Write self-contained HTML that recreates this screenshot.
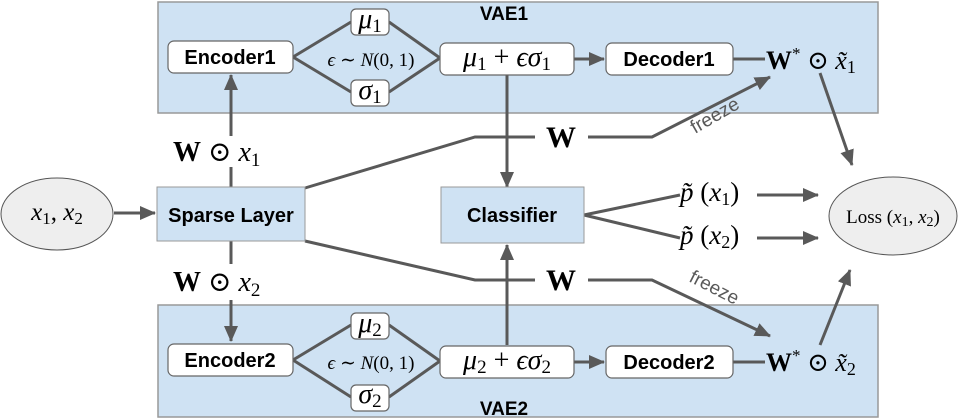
<!DOCTYPE html>
<html><head><meta charset="utf-8"><style>
body{margin:0;background:#fff}
svg{display:block}
.sans{font-family:"Liberation Sans",sans-serif;font-weight:bold}
.serif{font-family:"Liberation Serif","DejaVu Serif",serif}
</style></head><body>
<svg width="958" height="419" viewBox="0 0 958 419" xmlns="http://www.w3.org/2000/svg">
<defs><marker id="arL" markerWidth="16" markerHeight="14" refX="15" refY="7" orient="auto" markerUnits="userSpaceOnUse"><path d="M0,0 L16,7 L0,14 z" fill="#595959"/></marker></defs>
<g>
<rect x="158" y="2" width="720" height="111" fill="#cfe2f3" stroke="#999" stroke-width="1.5"/>
<text x="504" y="20" class="sans" font-size="19" text-anchor="middle">VAE1</text></g>
<g>
<rect x="158" y="305" width="720" height="112" fill="#cfe2f3" stroke="#999" stroke-width="1.5"/>
<text x="504" y="415" class="sans" font-size="19" text-anchor="middle">VAE2</text></g>
<g stroke="#595959" stroke-width="3" fill="none">
<polyline points="293,57 351,22"/><polyline points="293,57 351,92"/><polyline points="389,22 440,58"/><polyline points="389,92 440,58"/>
<polyline points="293,360 351,325"/><polyline points="293,360 351,397"/><polyline points="389,325 440,361"/><polyline points="389,397 440,361"/>
<line x1="574" y1="59" x2="604" y2="59" marker-end="url(#arL)"/>
<line x1="574" y1="362" x2="604" y2="362" marker-end="url(#arL)"/>
<line x1="733" y1="59" x2="765" y2="59"/><line x1="733" y1="362" x2="765" y2="362"/>
<line x1="231" y1="187" x2="231" y2="167"/><line x1="231" y1="136" x2="231" y2="75" marker-end="url(#arL)"/>
<line x1="231" y1="241" x2="231" y2="264"/><line x1="231" y1="300" x2="231" y2="341" marker-end="url(#arL)"/>
<polyline points="305,188 475,137 535,137"/><polyline points="588,137 652,137 770,77" marker-end="url(#arL)"/>
<polyline points="305,241 475,280 535,280"/><polyline points="588,280 652,280 770,336" marker-end="url(#arL)"/>
<line x1="507" y1="75" x2="507" y2="187" marker-end="url(#arL)"/>
<line x1="507" y1="345" x2="507" y2="245" marker-end="url(#arL)"/>
<polyline points="584,215 680,195"/><polyline points="584,215 680,238"/>
<line x1="757" y1="195" x2="818" y2="195" marker-end="url(#arL)"/>
<line x1="757" y1="238" x2="818" y2="238" marker-end="url(#arL)"/>
<line x1="820" y1="73" x2="852" y2="165" marker-end="url(#arL)"/>
<line x1="820" y1="345" x2="850" y2="270" marker-end="url(#arL)"/>
<line x1="114" y1="213" x2="155" y2="213" marker-end="url(#arL)"/>
</g>
<g stroke="#666" stroke-width="1.2" fill="#fff">
<rect x="168" y="41" width="125" height="32" rx="6"/>
<rect x="351" y="9" width="38" height="26" rx="5"/><rect x="351" y="80" width="38" height="26" rx="5"/>
<rect x="440" y="43" width="134" height="32" rx="6"/>
<rect x="606" y="43" width="127" height="32" rx="6"/>
<rect x="168" y="344" width="125" height="32" rx="6"/>
<rect x="351" y="313" width="38" height="26" rx="5"/><rect x="351" y="385" width="38" height="26" rx="5"/>
<rect x="440" y="346" width="134" height="32" rx="6"/>
<rect x="606" y="346" width="127" height="32" rx="6"/>
</g>
<rect x="157" y="187" width="148" height="54" fill="#cfe2f3" stroke="#999"/>
<rect x="441" y="187" width="143" height="56" fill="#cfe2f3" stroke="#999"/>
<ellipse cx="57" cy="214" rx="56" ry="36" fill="#eee" stroke="#555"/>
<ellipse cx="893" cy="216" rx="64" ry="39" fill="#eee" stroke="#555"/>
<g class="sans" font-size="20" text-anchor="middle">
<text x="230" y="64">Encoder1</text><text x="669" y="66">Decoder1</text>
<text x="230" y="367">Encoder2</text><text x="669" y="369">Decoder2</text>
<text x="231" y="222">Sparse Layer</text><text x="512" y="222">Classifier</text>
</g>
<g class="serif" fill="#000">
<text x="370" y="28" font-size="28" font-style="italic" text-anchor="middle">μ<tspan font-style="normal" font-size="19" dy="4">1</tspan></text>
<text x="370" y="99" font-size="28" font-style="italic" text-anchor="middle">σ<tspan font-style="normal" font-size="19" dy="4">1</tspan></text>
<text x="370" y="332" font-size="28" font-style="italic" text-anchor="middle">μ<tspan font-style="normal" font-size="19" dy="4">2</tspan></text>
<text x="370" y="403" font-size="28" font-style="italic" text-anchor="middle">σ<tspan font-style="normal" font-size="19" dy="4">2</tspan></text>
<text x="371" y="66" font-size="19" text-anchor="middle"><tspan font-style="italic">ϵ</tspan> ∼ <tspan font-style="italic">N</tspan>(0, 1)</text>
<text x="371" y="369" font-size="19" text-anchor="middle"><tspan font-style="italic">ϵ</tspan> ∼ <tspan font-style="italic">N</tspan>(0, 1)</text>
<text x="507" y="66" font-size="28" text-anchor="middle"><tspan font-style="italic">μ</tspan><tspan font-size="19" dy="4">1</tspan><tspan dy="-4"> + </tspan><tspan font-style="italic">ϵσ</tspan><tspan font-size="19" dy="4">1</tspan></text>
<text x="507" y="369" font-size="28" text-anchor="middle"><tspan font-style="italic">μ</tspan><tspan font-size="19" dy="4">2</tspan><tspan dy="-4"> + </tspan><tspan font-style="italic">ϵσ</tspan><tspan font-size="19" dy="4">2</tspan></text>
<text x="57" y="220" font-size="25" text-anchor="middle"><tspan font-style="italic">x</tspan><tspan font-size="17" dy="4">1</tspan><tspan dy="-4">, </tspan><tspan font-style="italic">x</tspan><tspan font-size="17" dy="4">2</tspan></text>
<text x="173" y="161" font-size="28"><tspan font-weight="bold">W</tspan> ⊙ <tspan font-style="italic">x</tspan><tspan font-size="19" dy="5">1</tspan></text>
<text x="173" y="291" font-size="28"><tspan font-weight="bold">W</tspan> ⊙ <tspan font-style="italic">x</tspan><tspan font-size="19" dy="5">2</tspan></text>
<text x="561" y="147" font-size="30" font-weight="bold" text-anchor="middle">W</text>
<text x="561" y="290" font-size="30" font-weight="bold" text-anchor="middle">W</text>
<text x="766" y="69" font-size="26"><tspan font-weight="bold">W</tspan><tspan font-size="17" dy="-10">*</tspan><tspan dy="10"> ⊙ </tspan><tspan font-style="italic">x̃</tspan><tspan font-size="18" dy="4">1</tspan></text>
<text x="766" y="371" font-size="26"><tspan font-weight="bold">W</tspan><tspan font-size="17" dy="-10">*</tspan><tspan dy="10"> ⊙ </tspan><tspan font-style="italic">x̃</tspan><tspan font-size="18" dy="4">2</tspan></text>
<text x="680" y="201" font-size="27"><tspan font-style="italic">p̃</tspan> (<tspan font-style="italic">x</tspan><tspan font-size="18" dy="4">1</tspan><tspan dy="-4">)</tspan></text>
<text x="680" y="244" font-size="27"><tspan font-style="italic">p̃</tspan> (<tspan font-style="italic">x</tspan><tspan font-size="18" dy="4">2</tspan><tspan dy="-4">)</tspan></text>
<text x="893" y="223" font-size="19" text-anchor="middle">Loss (<tspan font-style="italic">x</tspan><tspan font-size="14" dy="3">1</tspan><tspan dy="-3">, </tspan><tspan font-style="italic">x</tspan><tspan font-size="14" dy="3">2</tspan><tspan dy="-3">)</tspan></text>
</g>
<g font-family="Liberation Sans,sans-serif" font-size="19" fill="#595959">
<text transform="translate(695,134) rotate(-30)">freeze</text>
<text transform="translate(688,281) rotate(27)">freeze</text>
</g>
</svg>
</body></html>
